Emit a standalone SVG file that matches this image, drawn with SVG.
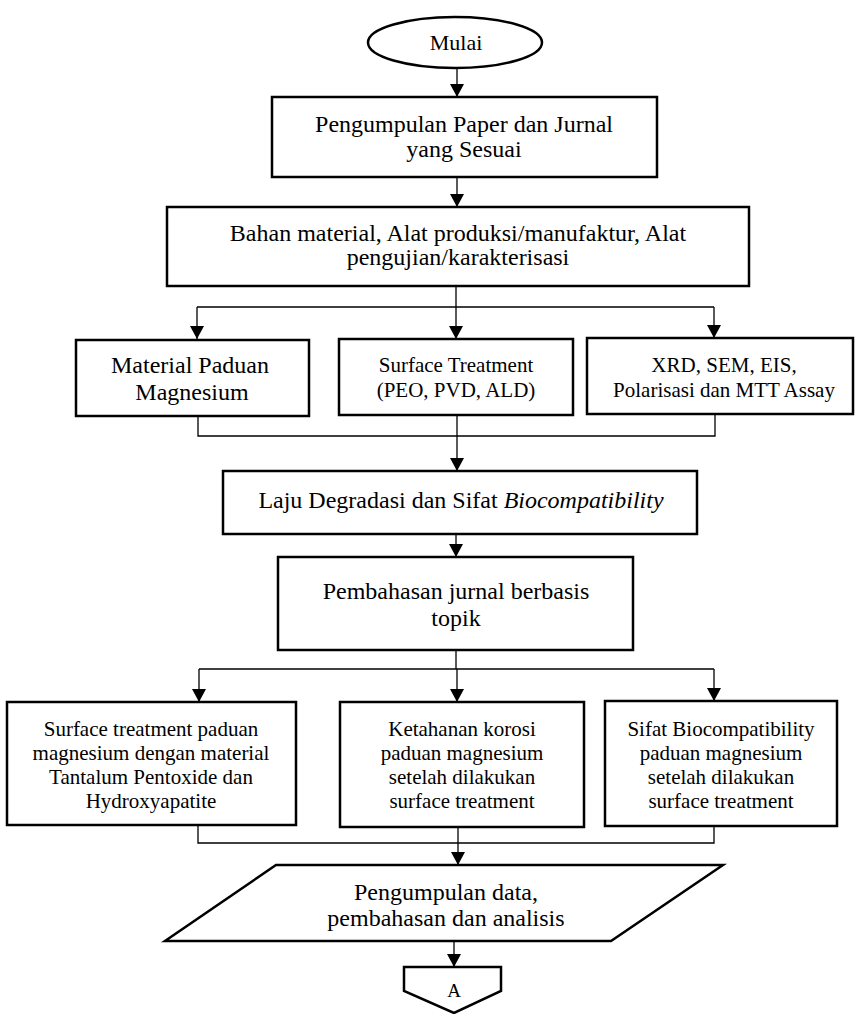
<svg xmlns="http://www.w3.org/2000/svg" width="856" height="1014" viewBox="0 0 856 1014">
<style>
  .box { fill: #fff; stroke: #000; stroke-width: 2.5; }
  .con { fill: none; stroke: #000; stroke-width: 1.3; }
  .t { font-family: "Liberation Serif", "Times New Roman", serif; fill: #000; text-anchor: middle; }
  .s24 { font-size: 24px; }
  .s22 { font-size: 22px; }
  .s21 { font-size: 21px; }
</style>
<defs>
  <marker id="ah" viewBox="0 0 13 14" refX="13" refY="7" markerWidth="13" markerHeight="14" orient="auto" markerUnits="userSpaceOnUse">
    <path d="M0,0 L13,7 L0,14 Z" fill="#000"/>
  </marker>
</defs>
<rect width="856" height="1014" fill="#fff"/>

<g id="connectors">
  <path class="con" d="M457,68 V97" marker-end="url(#ah)"/>
  <path class="con" d="M457,177 V207" marker-end="url(#ah)"/>
  <path class="con" d="M456,286 V307 M197,307 H714"/>
  <path class="con" d="M197,307 V339" marker-end="url(#ah)"/>
  <path class="con" d="M456,307 V339" marker-end="url(#ah)"/>
  <path class="con" d="M714,307 V338" marker-end="url(#ah)"/>
  <path class="con" d="M198,416 V436 H715 V414"/>
  <path class="con" d="M457,415 V471" marker-end="url(#ah)"/>
  <path class="con" d="M456,534 V557" marker-end="url(#ah)"/>
  <path class="con" d="M456,650 V669 M199,669 H714"/>
  <path class="con" d="M199,669 V702" marker-end="url(#ah)"/>
  <path class="con" d="M457,669 V702" marker-end="url(#ah)"/>
  <path class="con" d="M714,669 V701" marker-end="url(#ah)"/>
  <path class="con" d="M198,825 V843 H714 V826"/>
  <path class="con" d="M458,827 V865" marker-end="url(#ah)"/>
  <path class="con" d="M454,941 V967" marker-end="url(#ah)"/>
</g>

<g id="mulai">
  <ellipse class="box" cx="455" cy="42.5" rx="87" ry="25.5" stroke-width="2"/>
  <text class="t s22" x="456" y="50">Mulai</text>
</g>

<g id="pengumpulan-paper">
  <rect class="box" x="272" y="97" width="385" height="80"/>
  <text class="t s24" x="464" y="132">Pengumpulan Paper dan Jurnal</text>
  <text class="t s24" x="464" y="157">yang Sesuai</text>
</g>

<g id="bahan">
  <rect class="box" x="167" y="207" width="582" height="79"/>
  <text class="t s24" x="458" y="241">Bahan material, Alat produksi/manufaktur, Alat</text>
  <text class="t s24" x="458" y="265">pengujian/karakterisasi</text>
</g>

<g id="material-paduan">
  <rect class="box" x="76" y="340" width="233" height="76"/>
  <text class="t s24" x="190" y="373">Material Paduan</text>
  <text class="t s24" x="192" y="400">Magnesium</text>
</g>

<g id="surface-treatment">
  <rect class="box" x="339" y="339" width="234" height="76"/>
  <text class="t s21" x="456" y="372">Surface Treatment</text>
  <text class="t s21" x="456" y="397">(PEO, PVD, ALD)</text>
</g>

<g id="xrd">
  <rect class="box" x="587" y="338" width="266" height="76"/>
  <text class="t s21" x="724" y="372">XRD, SEM, EIS,</text>
  <text class="t s21" x="724" y="397">Polarisasi dan MTT Assay</text>
</g>

<g id="laju">
  <rect class="box" x="223" y="471" width="474" height="63"/>
  <text class="t s24" x="461" y="508">Laju Degradasi dan Sifat <tspan font-style="italic">Biocompatibility</tspan></text>
</g>

<g id="pembahasan">
  <rect class="box" x="278" y="557" width="355" height="93"/>
  <text class="t s24" x="456" y="599">Pembahasan jurnal berbasis</text>
  <text class="t s24" x="456" y="626">topik</text>
</g>

<g id="surface-tantalum">
  <rect class="box" x="7" y="702" width="289" height="123"/>
  <text class="t s21" x="151" y="736">Surface treatment paduan</text>
  <text class="t s21" x="151" y="760">magnesium dengan material</text>
  <text class="t s21" x="151" y="784">Tantalum Pentoxide dan</text>
  <text class="t s21" x="151" y="808">Hydroxyapatite</text>
</g>

<g id="ketahanan">
  <rect class="box" x="340" y="702" width="244" height="125"/>
  <text class="t s21" x="462" y="736">Ketahanan korosi</text>
  <text class="t s21" x="462" y="760">paduan magnesium</text>
  <text class="t s21" x="462" y="784">setelah dilakukan</text>
  <text class="t s21" x="462" y="808">surface treatment</text>
</g>

<g id="sifat-bio">
  <rect class="box" x="605" y="701" width="232" height="125"/>
  <text class="t s21" x="721" y="736">Sifat Biocompatibility</text>
  <text class="t s21" x="721" y="760">paduan magnesium</text>
  <text class="t s21" x="721" y="784">setelah dilakukan</text>
  <text class="t s21" x="721" y="808">surface treatment</text>
</g>

<g id="pengumpulan-data">
  <polygon class="box" points="276,865 723,865 611,941 165,941"/>
  <text class="t s24" x="446" y="900">Pengumpulan data,</text>
  <text class="t s24" x="446" y="926">pembahasan dan analisis</text>
</g>

<g id="offpage-a">
  <polygon class="box" points="404,967 501,967 501,991 454,1013 404,991"/>
  <text class="t" font-size="19" x="454" y="997">A</text>
</g>
</svg>
